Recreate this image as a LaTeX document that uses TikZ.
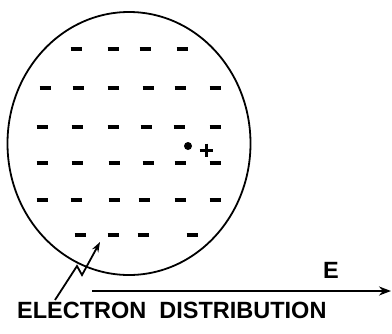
\documentclass[tikz,border=0pt]{standalone}
\usepackage{fontspec}
\setmainfont{Liberation Sans}
\usetikzlibrary{arrows.meta,shapes.geometric}
\begin{document}
\begin{tikzpicture}[x=1pt,y=-1pt,
  elec/.style={line width=3.2pt},
  lbl/.style={font=\fontsize{23.5}{24}\selectfont\bfseries, inner sep=0pt}]
\useasboundingbox (0,0) rectangle (392,333);
% body
\node[draw, line width=1.8pt, ellipse, minimum width=243pt, minimum height=263pt, inner sep=0pt] (body) at (129,143.5) {};
% electrons
\foreach \x/\y in {76/49,113/49,145/49,182/49,
  45/88,78/88,113/88,148/88,180/88,215/88,
  42/127,77/127,113/127,146/127,179/127,215/127,
  42/163,77/163,114/163,148/163,180/163,215/163,
  42/200,76/200,114/200,144/200,180/200,215/200,
  80/235,113/235,143/235,192/235}
  \draw[elec] (\x-5.5,\y) -- (\x+5.5,\y);
% nucleus
\fill (188,146) circle (4pt);
\node[inner sep=0pt] (plus) at (206,150) {};
\draw[line width=3pt] (199.5,150) -- (212.5,150) (206,143.5) -- (206,156.5);
% field arrow
\coordinate (ea) at (92,291);
\coordinate (eb) at (391,291);
\draw[line width=2.2pt, -{Stealth[length=12pt,width=9pt]}] (ea) -- (eb);
\node[lbl] (E) at (331,270) {E};
% pointer
\coordinate (p0) at (55,300);
\coordinate (p3) at (100,242);
\draw[line width=1.8pt, -{Stealth[length=10pt,width=7pt]}] (p0) -- (77,266) -- (82,275) -- (p3);
% label
\node[lbl, anchor=west] (lab) at (17,310.5) {ELECTRON\hspace{0.55em}DISTRIBUTION};
\end{tikzpicture}
\end{document}
